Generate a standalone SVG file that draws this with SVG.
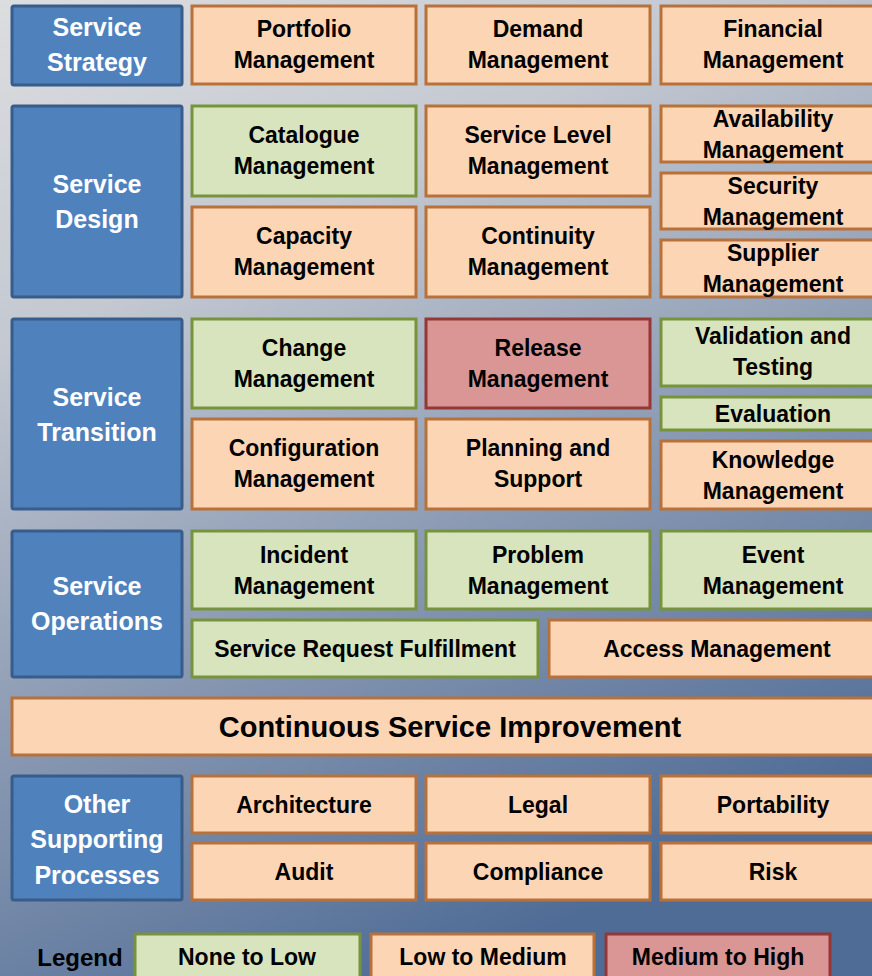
<svg xmlns="http://www.w3.org/2000/svg" width="872" height="976" viewBox="0 0 872 976">
<defs>
<linearGradient id="bg" gradientUnits="userSpaceOnUse" x1="0" y1="0" x2="450" y2="976">
<stop offset="0" stop-color="#dcdddf"/>
<stop offset="0.3" stop-color="#c3c8d1"/>
<stop offset="0.65" stop-color="#8797b1"/>
<stop offset="1" stop-color="#4f6c96"/>
</linearGradient>
<style>
.b rect{fill:#4f81bd;stroke:#385d8a;stroke-width:3}
.o rect{fill:#fcd5b5;stroke:#b9713a;stroke-width:3}
.g rect{fill:#d7e4bd;stroke:#77933c;stroke-width:3}
.r rect{fill:#d99694;stroke:#953735;stroke-width:3}
text{font-family:"Liberation Sans",Arial,sans-serif;font-weight:bold;text-anchor:middle}
.b text{fill:#ffffff;font-size:25px}
.o text,.g text,.r text{fill:#000000;font-size:23px}
</style>
</defs>
<rect x="0" y="0" width="872" height="976" fill="url(#bg)"/>

<g id="service-strategy" class="b"><rect x="12" y="6" width="170" height="79" rx="2"/><text x="97" y="36">Service</text><text x="97" y="71">Strategy</text></g>
<g id="portfolio" class="o"><rect x="192" y="6" width="224" height="78"/><text x="304" y="37">Portfolio</text><text x="304" y="68">Management</text></g>
<g id="demand" class="o"><rect x="426" y="6" width="224" height="78"/><text x="538" y="37">Demand</text><text x="538" y="68">Management</text></g>
<g id="financial" class="o"><rect x="661" y="6" width="224" height="78"/><text x="773" y="37">Financial</text><text x="773" y="68">Management</text></g>

<g id="service-design" class="b"><rect x="12" y="106" width="170" height="191" rx="2"/><text x="97" y="193">Service</text><text x="97" y="228">Design</text></g>
<g id="catalogue" class="g"><rect x="192" y="106" width="224" height="90"/><text x="304" y="143">Catalogue</text><text x="304" y="174">Management</text></g>
<g id="service-level" class="o"><rect x="426" y="106" width="224" height="90"/><text x="538" y="143">Service Level</text><text x="538" y="174">Management</text></g>
<g id="capacity" class="o"><rect x="192" y="207" width="224" height="90"/><text x="304" y="244">Capacity</text><text x="304" y="275">Management</text></g>
<g id="continuity" class="o"><rect x="426" y="207" width="224" height="90"/><text x="538" y="244">Continuity</text><text x="538" y="275">Management</text></g>
<g id="availability" class="o"><rect x="661" y="106" width="224" height="56"/><text x="773" y="127">Availability</text><text x="773" y="158">Management</text></g>
<g id="security" class="o"><rect x="661" y="173" width="224" height="56"/><text x="773" y="194">Security</text><text x="773" y="225">Management</text></g>
<g id="supplier" class="o"><rect x="661" y="240" width="224" height="57"/><text x="773" y="261">Supplier</text><text x="773" y="292">Management</text></g>

<g id="service-transition" class="b"><rect x="12" y="319" width="170" height="190" rx="2"/><text x="97" y="406">Service</text><text x="97" y="441">Transition</text></g>
<g id="change" class="g"><rect x="192" y="319" width="224" height="89"/><text x="304" y="356">Change</text><text x="304" y="387">Management</text></g>
<g id="release" class="r"><rect x="426" y="319" width="224" height="89"/><text x="538" y="356">Release</text><text x="538" y="387">Management</text></g>
<g id="configuration" class="o"><rect x="192" y="419" width="224" height="90"/><text x="304" y="456">Configuration</text><text x="304" y="487">Management</text></g>
<g id="planning" class="o"><rect x="426" y="419" width="224" height="90"/><text x="538" y="456">Planning and</text><text x="538" y="487">Support</text></g>
<g id="validation" class="g"><rect x="661" y="319" width="224" height="67"/><text x="773" y="344">Validation and</text><text x="773" y="375">Testing</text></g>
<g id="evaluation" class="g"><rect x="661" y="397" width="224" height="33"/><text x="773" y="422">Evaluation</text></g>
<g id="knowledge" class="o"><rect x="661" y="441" width="224" height="68"/><text x="773" y="468">Knowledge</text><text x="773" y="499">Management</text></g>

<g id="service-operations" class="b"><rect x="12" y="531" width="170" height="146" rx="2"/><text x="97" y="595">Service</text><text x="97" y="630">Operations</text></g>
<g id="incident" class="g"><rect x="192" y="531" width="224" height="78"/><text x="304" y="563">Incident</text><text x="304" y="594">Management</text></g>
<g id="problem" class="g"><rect x="426" y="531" width="224" height="78"/><text x="538" y="563">Problem</text><text x="538" y="594">Management</text></g>
<g id="event" class="g"><rect x="661" y="531" width="224" height="78"/><text x="773" y="563">Event</text><text x="773" y="594">Management</text></g>
<g id="service-request" class="g"><rect x="192" y="620" width="346" height="57"/><text x="365" y="657">Service Request Fulfillment</text></g>
<g id="access" class="o"><rect x="549" y="620" width="336" height="57"/><text x="717" y="657">Access Management</text></g>

<g id="csi" class="o"><rect x="12" y="698" width="876" height="57"/><text x="450" y="737" style="font-size:29px">Continuous Service Improvement</text></g>

<g id="other-supporting" class="b"><rect x="12" y="776" width="170" height="124" rx="2"/><text x="97" y="813">Other</text><text x="97" y="848">Supporting</text><text x="97" y="884">Processes</text></g>
<g id="architecture" class="o"><rect x="192" y="776" width="224" height="57"/><text x="304" y="813">Architecture</text></g>
<g id="legal" class="o"><rect x="426" y="776" width="224" height="57"/><text x="538" y="813">Legal</text></g>
<g id="portability" class="o"><rect x="661" y="776" width="224" height="57"/><text x="773" y="813">Portability</text></g>
<g id="audit" class="o"><rect x="192" y="843" width="224" height="57"/><text x="304" y="880">Audit</text></g>
<g id="compliance" class="o"><rect x="426" y="843" width="224" height="57"/><text x="538" y="880">Compliance</text></g>
<g id="risk" class="o"><rect x="661" y="843" width="224" height="57"/><text x="773" y="880">Risk</text></g>

<g id="legend">
<text x="80" y="966" style="font-size:24px;fill:#000">Legend</text>
<g id="legend-none-low" class="g"><rect x="135" y="934" width="225" height="50"/><text x="247" y="965">None to Low</text></g>
<g id="legend-low-medium" class="o"><rect x="371" y="934" width="223" height="50"/><text x="483" y="965">Low to Medium</text></g>
<g id="legend-medium-high" class="r"><rect x="606" y="934" width="224" height="50"/><text x="718" y="965">Medium to High</text></g>
</g>
<g id="connectors"/>
</svg>
